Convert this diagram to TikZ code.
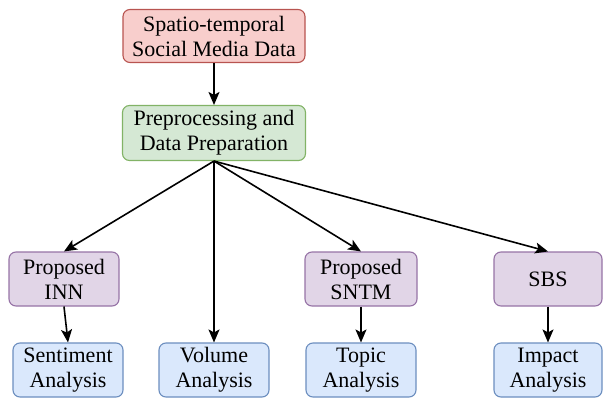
\documentclass[tikz,border=0pt]{standalone}
\usepackage{fontspec}
\setmainfont{Liberation Serif}
\usetikzlibrary{arrows.meta, positioning}
\definecolor{srcfill}{HTML}{F8CECC}
\definecolor{srcline}{HTML}{B85450}
\definecolor{prefill}{HTML}{D5E8D4}
\definecolor{preline}{HTML}{82B366}
\definecolor{modfill}{HTML}{E1D5E7}
\definecolor{modline}{HTML}{9673A6}
\definecolor{resfill}{HTML}{DAE8FC}
\definecolor{resline}{HTML}{6C8EBF}

\begin{document}
\begin{tikzpicture}[x=1pt, y=-1pt,
  box/.style={rounded corners=7pt, line width=1.1pt, minimum width=110pt, minimum height=54pt, align=center, inner sep=2pt, font=\fontsize{22}{25}\selectfont},
  srcbox/.style={box, draw=srcline, fill=srcfill, minimum width=182pt, minimum height=53pt},
  prebox/.style={box, draw=preline, fill=prefill, minimum width=183pt, minimum height=55pt},
  modbox/.style={box, draw=modline, fill=modfill},
  resbox/.style={box, draw=resline, fill=resfill},
  flow/.style={-{Stealth[length=13pt, width=11pt, inset=3pt]}, line width=1.6pt}
]
  \useasboundingbox (0,0) rectangle (603,402);

  % Top of the pipeline
  \node[srcbox] (data) at (214, 36) {Spatio-temporal\\Social Media Data};
  \node[prebox] (prep) at (214, 133) {Preprocessing and\\Data Preparation};

  % Models
  \node[modbox] (inn) at (64, 279) {Proposed\\INN};
  \node[modbox, minimum width=112pt] (sntm) at (361, 279) {Proposed\\SNTM};
  \node[modbox, minimum width=108pt] (sbs) at (548, 279) {SBS};

  % Results
  \node[resbox] (senti) at (68, 370) {Sentiment\\Analysis};
  \node[resbox] (volume) at (214, 370) {Volume\\Analysis};
  \node[resbox] (topic) at (361, 370) {Topic\\Analysis};
  \node[resbox, minimum width=108pt] (impact) at (548, 370) {Impact\\Analysis};

  % Arrows
  \draw[flow] (data) -- (prep);
  \draw[flow] (prep.south) -- (inn.north);
  \draw[flow] (prep.south) -- (volume.north);
  \draw[flow] (prep.south) -- (sntm.north);
  \draw[flow] (prep.south) -- (sbs.north);
  \draw[flow] (inn.south) -- (senti.north);
  \draw[flow] (sntm) -- (topic);
  \draw[flow] (sbs) -- (impact);
\end{tikzpicture}
\end{document}
